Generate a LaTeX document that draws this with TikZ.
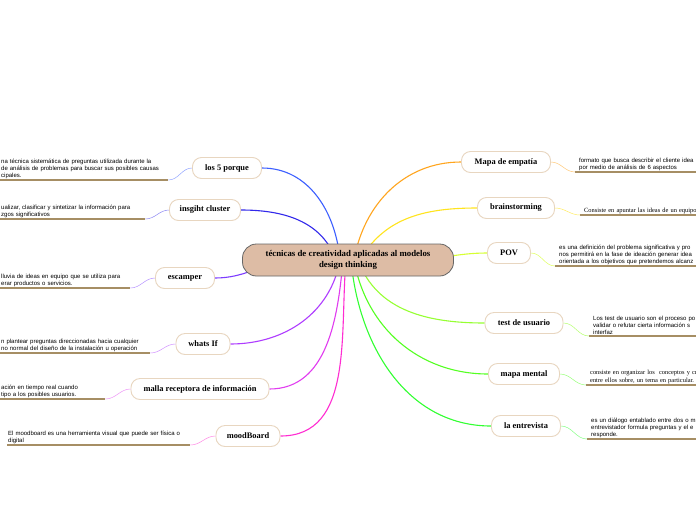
\documentclass[tikz,border=0pt]{standalone}
\usepackage{fontspec}
\setmainfont{Liberation Serif}
\newfontfamily\descsans{Liberation Sans}
\usepackage{tikz}
\usetikzlibrary{positioning,backgrounds}
\definecolor{rootfill}{RGB}{221,188,165}
\definecolor{kidline}{RGB}{232,214,192}
\definecolor{ulbrown}{RGB}{166,142,100}
\definecolor{bA}{RGB}{60,95,255}
\definecolor{bB}{RGB}{50,40,235}
\definecolor{bC}{RGB}{125,60,255}
\definecolor{bD}{RGB}{175,60,255}
\definecolor{bE}{RGB}{225,60,240}
\definecolor{bF}{RGB}{255,45,210}
\definecolor{bG}{RGB}{255,165,30}
\definecolor{bH}{RGB}{255,228,30}
\definecolor{bI}{RGB}{215,255,50}
\definecolor{bJ}{RGB}{150,255,50}
\definecolor{bK}{RGB}{85,255,35}
\definecolor{bL}{RGB}{50,255,50}

\begin{document}
\begin{tikzpicture}[x=1pt,y=-1pt,
  root/.style={draw=black!60,fill=rootfill,rounded corners=14pt,line width=0.8pt,
               minimum width=211pt,minimum height=32pt,align=center,
               font=\fontsize{8.8}{10.5}\selectfont\bfseries},
  kid/.style={draw=kidline,fill=white,rounded corners=9pt,line width=0.9pt,
              minimum height=21pt,font=\fontsize{8.4}{10}\selectfont\bfseries},
  desc/.style={font=\fontsize{6}{7}\selectfont\descsans,align=left,
               inner sep=1pt,anchor=south west},
  descr/.style={desc,inner xsep=4pt,text width=200pt},
  descs/.style={descr,font=\fontsize{6.4}{7.6}\selectfont},
  ul/.style={draw=ulbrown,line width=1.4pt},
  br/.style={line width=1.1pt},
  tw/.style={line width=0.5pt}
]
\useasboundingbox (0,0) rectangle (696,520);
\clip (0,0) rectangle (696,520);

% central topic
\node[root] (root) at (348,260) {técnicas de creatividad aplicadas al modelos\\design thinking};

% left side
\node[kid,minimum width=69pt]  (c5p) at (227,168) {los 5 porque};
\node[kid,minimum width=71pt]  (ins) at (205,210) {insgiht cluster};
\node[kid,minimum width=59pt]  (esc) at (185,278) {escamper};
\node[kid,minimum width=54pt]  (wif) at (203,344) {whats If};
\node[kid,minimum width=138pt] (mal) at (200,389) {malla receptora de información};
\node[kid,minimum width=64pt]  (mood) at (248,436) {moodBoard};

% right side
\node[kid,minimum width=89pt]  (emp) at (506,162) {Mapa de empatía};
\node[kid,minimum width=77pt]  (brs) at (516,208) {brainstorming};
\node[kid,minimum width=43pt]  (pov) at (509,253) {POV};
\node[kid,minimum width=78pt]  (tus) at (524,323) {test de usuario};
\node[kid,minimum width=71pt]  (mme) at (524,374) {mapa mental};
\node[kid,minimum width=69pt]  (ent) at (526,426) {la entrevista};

% branches
\begin{scope}[on background layer]
\fill[white] (0,0) rectangle (696,520);
\draw[br,bA] ([xshift=-8pt]root.center) to[out=95,in=0] (c5p.east);
\draw[br,bB] ([xshift=-12pt]root.center) to[out=110,in=0] (ins.east);
\draw[br,bC] ([xshift=-60pt]root.center) to[out=190,in=0] (esc.east);
\draw[br,bD] ([xshift=-8pt]root.center) to[out=-100,in=0] (wif.east);
\draw[br,bE] ([xshift=-5pt]root.center) to[out=-95,in=0] (mal.east);
\draw[br,bF] ([xshift=-2pt]root.center) to[out=-95,in=0] (mood.east);
\draw[br,bG] ([xshift=6pt]root.center) to[out=80,in=180] (emp.west);
\draw[br,bH] ([xshift=12pt]root.center) to[out=60,in=180] (brs.west);
\draw[br,bI] ([xshift=60pt]root.center) to[out=0,in=180] (pov.west);
\draw[br,bJ] ([xshift=10pt]root.center) to[out=-70,in=180] (tus.west);
\draw[br,bK] ([xshift=6pt]root.center) to[out=-80,in=180] (mme.west);
\draw[br,bL] ([xshift=3pt]root.center) to[out=-85,in=180] (ent.west);
\end{scope}

% notes, left
\node[desc,text width=166pt] (d5p) at (0,180) {na técnica sistemática de preguntas utilizada durante la\\de análisis de problemas para buscar sus posibles causas\\cipales.};
\node[desc,text width=143pt] (dins) at (0,219) {ualizar, clasificar y sintetizar la información para\\zgos significativos};
\node[desc,text width=128pt] (desc) at (0,288) {lluvia de ideas en equipo que se utiliza para\\erar productos o servicios.};
\node[desc,text width=148pt] (dwif) at (0,353) {n plantear preguntas direccionadas hacia cualquier\\no normal del diseño de la instalación u operación};
\node[desc,text width=103pt] (dmal) at (0,399) {ación en tiempo real cuando\\tipo a los posibles usuarios.};
\node[desc,text width=181pt] (dmood) at (7,445) {El moodboard es una herramienta visual que puede ser física o\\digital};

% notes, right
\node[descr] (demp) at (575,172) {formato que busca describir el cliente idea\\por medio de análisis de 6 aspectos};
\node[descs] (dbrs) at (580,215) {Consiste en apuntar las ideas de un equipo};
\node[descr] (dpov) at (555,266) {es una definición del problema significativa y pro\\nos permitirá en la fase de ideación generar idea\\orientada a los objetivos que pretendemos alcanz};
\node[descr] (dtus) at (589,336) {Los test de usuario son el proceso po\\validar o refutar cierta información s\\interfaz};
\node[descs] (dmme) at (586,385) {consiste en organizar los\ \ conceptos y cr\\entre ellos sobre, un tema en particular.};
\node[descr] (dent) at (587,439) {es un diálogo entablado entre dos o m\\entrevistador formula preguntas y el e\\responde.};

% underlines
\foreach \d in {d5p,dins,desc,dwif,dmal,dmood,demp,dbrs,dpov,dtus,dmme,dent}
  \draw[ul] (\d.south west) -- (\d.south east);

% links to notes
\draw[tw,bA!55] (c5p.west) to[out=180,in=0] (d5p.south east);
\draw[tw,bB!55] (ins.west) to[out=180,in=0] (dins.south east);
\draw[tw,bC!55] (esc.west) to[out=180,in=0] (desc.south east);
\draw[tw,bD!55] (wif.west) to[out=180,in=0] (dwif.south east);
\draw[tw,bE!55] (mal.west) to[out=180,in=0] (dmal.south east);
\draw[tw,bF!55] (mood.west) to[out=180,in=0] (dmood.south east);
\draw[tw,bG!60] (emp.east) to[out=0,in=180] (demp.south west);
\draw[tw,bH!70] (brs.east) to[out=0,in=180] (dbrs.south west);
\draw[tw,bI!80] (pov.east) to[out=0,in=180] (dpov.south west);
\draw[tw,bJ!70] (tus.east) to[out=0,in=180] (dtus.south west);
\draw[tw,bK!60] (mme.east) to[out=0,in=180] (dmme.south west);
\draw[tw,bL!60] (ent.east) to[out=0,in=180] (dent.south west);
\end{tikzpicture}
\end{document}
